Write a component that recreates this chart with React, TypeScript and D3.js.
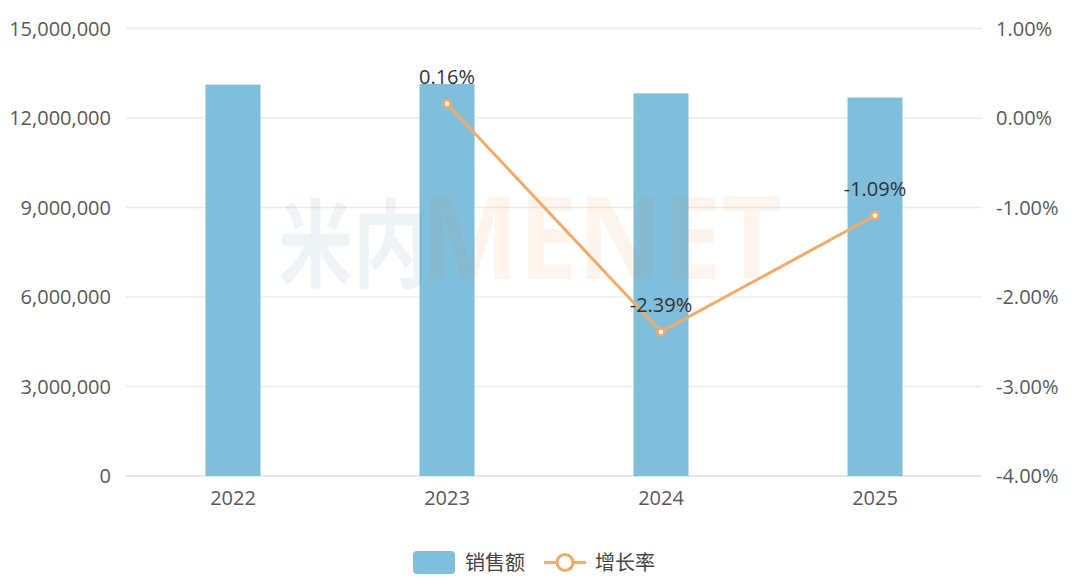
import React from "react";
import * as d3 from "d3";

const years = ["2022", "2023", "2024", "2025"];
const sales = [13120000, 13141000, 12827000, 12687000];
const growth: (number | null)[] = [null, 0.16, -2.39, -1.09];
const leftTicks = [0, 3000000, 6000000, 9000000, 12000000, 15000000];
const rightTicks = [-4, -3, -2, -1, 0, 1];

const W = 1080;
const H = 584;
const M = { left: 126, right: 982, top: 28.5, bottom: 476 };
const FONT = '"Open Sans", "Noto Sans CJK SC", sans-serif';
const CJK = '"Noto Sans CJK SC", "Open Sans", sans-serif';
const BAR = "#7fbfdc";
const LINE = "#f0aa6a";

export default function App() {
  const x = d3.scaleBand<string>().domain(years).range([M.left, M.right]).paddingInner(0).paddingOuter(0);
  const yL = d3.scaleLinear().domain([0, 15000000]).range([M.bottom, M.top]);
  const yR = d3.scaleLinear().domain([-4, 1]).range([M.bottom, M.top]);
  const barW = x.bandwidth() * 0.257;
  const fmtL = d3.format(",");
  const fmtR = (v: number) => v.toFixed(2) + "%";
  const pts = years
    .map((y, i) => ({ y, g: growth[i] }))
    .filter((d) => d.g !== null) as { y: string; g: number }[];
  const line = d3
    .line<{ y: string; g: number }>()
    .x((d) => (x(d.y) as number) + x.bandwidth() / 2)
    .y((d) => yR(d.g));

  return (
    <svg width={W} height={H} style={{ position: "absolute", left: 0, top: 0, background: "#fff" }}>
      {leftTicks.map((t) => (
        <line key={"g" + t} x1={M.left} x2={M.right} y1={yL(t)} y2={yL(t)} stroke={t === 0 ? "#e0e0e0" : "#ececec"} strokeWidth={1.3} />
      ))}
      {leftTicks.map((t) => (
        <text key={"l" + t} x={111} y={yL(t)} dy="0.35em" textAnchor="end" fontFamily={FONT} fontSize={20} fill="#595959">
          {fmtL(t)}
        </text>
      ))}
      {rightTicks.map((t) => (
        <text key={"r" + t} x={996} y={yR(t)} dy="0.35em" textAnchor="start" fontFamily={FONT} fontSize={20} fill="#595959">
          {fmtR(t)}
        </text>
      ))}
      {years.map((y, i) => (
        <rect key={"b" + y} x={(x(y) as number) + x.bandwidth() / 2 - barW / 2} y={yL(sales[i])} width={barW} height={yL(0) - yL(sales[i])} fill={BAR} />
      ))}
      {years.map((y) => (
        <text key={"x" + y} x={(x(y) as number) + x.bandwidth() / 2} y={505} textAnchor="middle" fontFamily={FONT} fontSize={20} fill="#595959">
          {y}
        </text>
      ))}
      <g opacity={0.07} fontWeight="bold" style={{ pointerEvents: "none" }}>
        <text x={278} y={279} fontFamily={CJK} fontSize={96} fill="#1f5f80" textLength={150} lengthAdjust="spacingAndGlyphs">
          米内
        </text>
        <text x={420} y={279} fontFamily={FONT} fontSize={114} fill="#e87820" textLength={362} lengthAdjust="spacingAndGlyphs">
          MENET
        </text>
      </g>
      <path d={line(pts) || ""} fill="none" stroke={LINE} strokeWidth={3} />
      {pts.map((d) => (
        <circle key={"c" + d.y} cx={(x(d.y) as number) + x.bandwidth() / 2} cy={yR(d.g)} r={3.5} fill="#fff" stroke={LINE} strokeWidth={2.5} />
      ))}
      {pts.map((d) => (
        <text key={"t" + d.y} x={(x(d.y) as number) + x.bandwidth() / 2} y={yR(d.g) - 19.5} textAnchor="middle" fontFamily={FONT} fontSize={20} fill="#333">
          {fmtR(d.g)}
        </text>
      ))}
      <g>
        <rect x={413} y={551} width={42} height={23} rx={4} fill={BAR} />
        <text x={465} y={562.5} dy="0.35em" fontFamily={CJK} fontSize={20} fill="#444">
          销售额
        </text>
        <line x1={544} x2={586} y1={562.5} y2={562.5} stroke={LINE} strokeWidth={3} />
        <circle cx={565} cy={562.5} r={8} fill="#fff" stroke={LINE} strokeWidth={3} />
        <text x={595} y={562.5} dy="0.35em" fontFamily={CJK} fontSize={20} fill="#444">
          增长率
        </text>
      </g>
    </svg>
  );
}
